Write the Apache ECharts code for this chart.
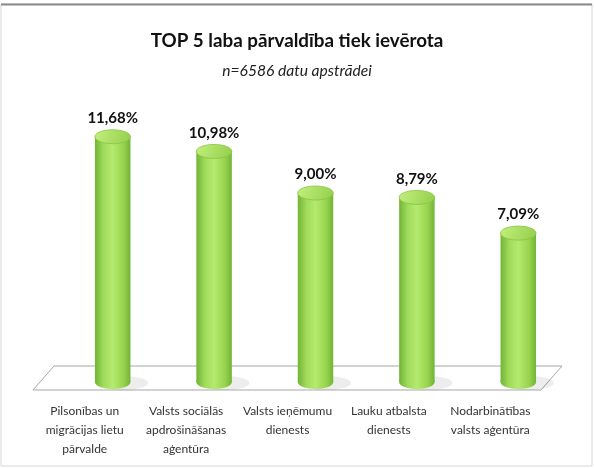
<!DOCTYPE html>
<html><head><meta charset="utf-8">
<script src="https://cdn.jsdelivr.net/npm/echarts@6/dist/echarts.min.js"></script>
<style>html,body{margin:0;padding:0;background:#fff}#c{width:594px;height:468px}</style>
</head><body><div id="c"></div>
<script>
const categories = ['Pilsonības un\nmigrācijas lietu\npārvalde','Valsts sociālās\napdrošināšanas\naģentūra','Valsts ieņēmumu\ndienests','Lauku atbalsta\ndienests','Nodarbinātības\nvalsts aģentūra'];
const values = [11.68, 10.98, 9.00, 8.79, 7.09];
const valueLabels = ['11,68%','10,98%','9,00%','8,79%','7,09%'];

const FONT = 'Lato,"DejaVu Sans Condensed",sans-serif';
const chart = echarts.init(document.getElementById('c'));

function renderItem(params, api) {
  const i = api.value(0), v = api.value(1);
  const top = api.coord([i, v]);
  const base = api.coord([i, 0]);
  const w = api.size([1, 0])[0] * 0.35;
  const ry = 7;
  const x0 = top[0] - w / 2;
  const bodyGrad = new echarts.graphic.LinearGradient(0, 0, 1, 0, [
    {offset: 0, color: '#72b436'},
    {offset: 0.25, color: '#a2dc5c'},
    {offset: 0.5, color: '#b4ea6e'},
    {offset: 0.8, color: '#98d44e'},
    {offset: 1, color: '#72b436'}
  ]);
  const topGrad = new echarts.graphic.LinearGradient(0, 0, 1, 1, [
    {offset: 0, color: '#c4f07e'},
    {offset: 1, color: '#92ce4a'}
  ]);
  return {
    type: 'group',
    children: [
      {type: 'ellipse', shape: {cx: top[0] + w * 0.3, cy: base[1] + 1, rx: w * 0.7, ry: ry},
       style: {fill: 'rgba(0,0,0,0.07)'}},
      {type: 'ellipse', shape: {cx: top[0], cy: base[1], rx: w / 2, ry: ry},
       style: {fill: bodyGrad}},
      {type: 'rect', shape: {x: x0, y: top[1], width: w, height: base[1] - top[1]},
       style: {fill: bodyGrad}},
      {type: 'ellipse', shape: {cx: top[0], cy: top[1], rx: w / 2, ry: ry},
       style: {fill: topGrad, stroke: '#86c442', lineWidth: 0.8}},
      {type: 'text', x: top[0], y: top[1] - ry - 4,
       style: {text: valueLabels[i], fill: '#111', font: 'bold 15px ' + FONT,
                align: 'center', verticalAlign: 'bottom'}}
    ]
  };
}

chart.setOption({
  animation: false,
  title: [
    {text: 'TOP 5 laba pārvaldība tiek ievērota', left: 'center', top: 26,
     textStyle: {fontFamily: FONT, fontSize: 18.8, fontWeight: 'bold', color: '#111'}},
    {text: 'n=6586 datu apstrādei', left: 'center', top: 58,
     textStyle: {fontFamily: FONT, fontSize: 15.6, fontStyle: 'italic', fontWeight: 'normal', color: '#222'}}
  ],
  graphic: [
    {type: 'rect', shape: {x: 1, y: 4, width: 591, height: 462},
     style: {fill: 'none', stroke: '#d6d6d6', lineWidth: 1}, z: -1},
    {type: 'line', shape: {x1: 1, y1: 4.5, x2: 592, y2: 4.5},
     style: {stroke: '#8a8a8a', lineWidth: 2}, z: -1},
    {type: 'polygon', shape: {points: [[33, 390], [54, 366], [562, 366], [541, 390]]},
     style: {fill: '#fff', stroke: '#a6a6a6', lineWidth: 1}, z: -1}
  ],
  grid: {left: 62, right: 25, top: 88, bottom: 86},
  xAxis: {
    type: 'category', data: categories,
    axisLine: {show: false}, axisTick: {show: false},
    axisLabel: {fontFamily: FONT, fontSize: 12, color: '#333', lineHeight: 19, margin: 20,
                interval: 0, padding: [0, 56, 0, 0]}
  },
  yAxis: {type: 'value', min: 0, max: 14, show: false, splitLine: {show: false}},
  series: [{
    type: 'custom', renderItem: renderItem,
    data: values.map((v, i) => [i, v]),
    encode: {x: 0, y: 1}
  }]
});
</script></body></html>
